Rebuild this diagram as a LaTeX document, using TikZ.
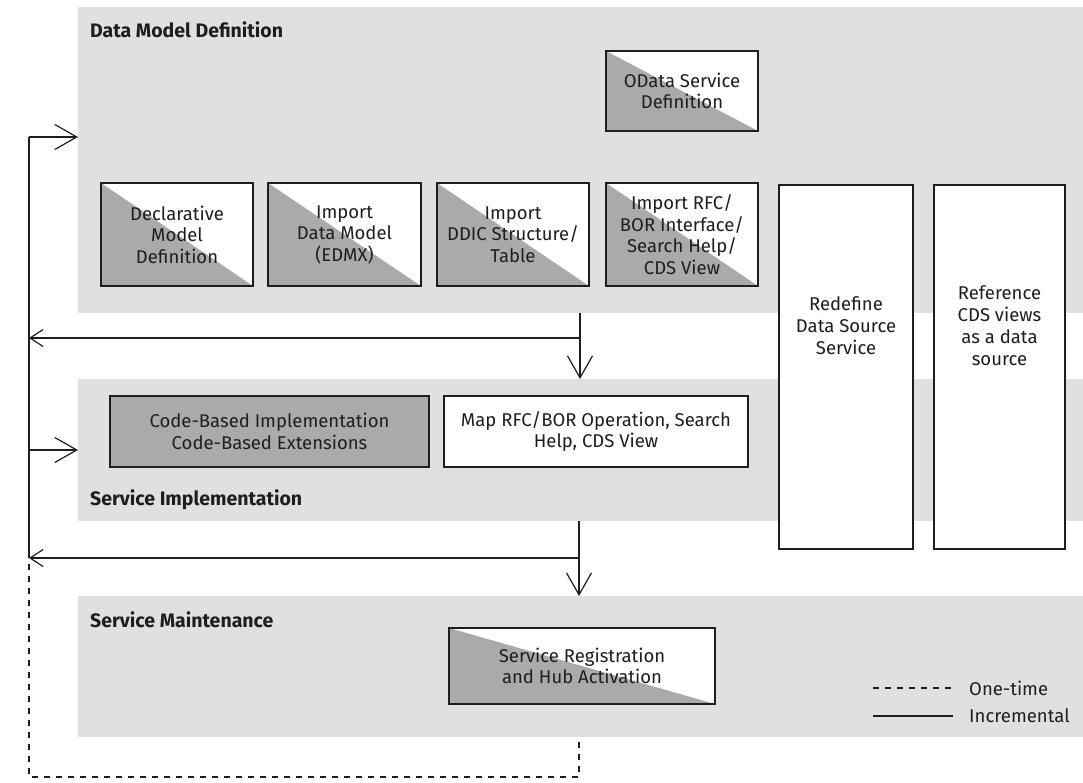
\documentclass[tikz,border=0pt]{standalone}
\usepackage{fontspec}
\setmainfont{Fira Sans}
\usetikzlibrary{arrows.meta}

\definecolor{bandgrey}{HTML}{E0E0E0}
\definecolor{halfgrey}{HTML}{AAAAAA}
\definecolor{ink}{HTML}{1E1E1E}

\tikzset{
  phase/.style={fill=bandgrey, draw=none, inner sep=0pt, outer sep=0pt},
  phasetitle/.style={anchor=base west, inner sep=0pt, text=ink,
    font=\fontsize{19.5}{22}\selectfont\bfseries},
  plainbox/.style={draw=ink, line width=1.3pt, fill=white, inner sep=0pt,
    outer sep=0pt, align=center, text=ink,
    font=\fontsize{18.5}{21.5}\selectfont},
  darkbox/.style={plainbox, fill=halfgrey},
  halfbox/.style={plainbox,
    path picture={\fill[halfgrey] (path picture bounding box.north west)
      -- (path picture bounding box.south west)
      -- (path picture bounding box.south east) -- cycle;}},
  boxtext/.style={inner sep=0pt, align=center, text=ink,
    font=\fontsize{18.5}{22}\selectfont},
  flow/.style={draw=ink, line width=1.2pt},
  onetime/.style={flow, dash pattern=on 6pt off 6pt},
  bigV/.tip={Straight Barb[length=22pt,width=25pt]},
  smallV/.tip={Straight Barb[length=13pt,width=17pt]},
  legendtext/.style={anchor=west, inner sep=0pt, text=ink,
    font=\fontsize{18.5}{21}\selectfont},
}

\begin{document}
\begin{tikzpicture}[x=1pt, y=-1pt]
\useasboundingbox (0,0) rectangle (1083,782);
\fill[white] (0,0) rectangle (1083,782);

% phase bands
\node[phase, minimum width=1005, minimum height=306] (dmd)    at (580.5,160) {};
\node[phase, minimum width=1005, minimum height=142] (simp)   at (580.5,450) {};
\node[phase, minimum width=1005, minimum height=141] (smaint) at (580.5,666.5) {};

\node[phasetitle] (dmdT)    at (90,37)  {Data Model Definition};
\node[phasetitle] (simpT)   at (90,505) {Service Implementation};
\node[phasetitle] (smaintT) at (90,627) {Service Maintenance};

% data model definition
\node[halfbox, minimum width=152, minimum height=80] (odata) at (682,91)
  {OData Service\\Definition};
\node[halfbox, minimum width=152, minimum height=103] (decl) at (177,234.5)
  {Declarative\\Model\\Definition};
\node[halfbox, minimum width=153, minimum height=103] (edmx) at (344.5,234.5)
  {Import\\Data Model\\(EDMX)};
\node[halfbox, minimum width=152, minimum height=103] (ddic) at (513,234.5)
  {Import\\DDIC Structure/\\Table};
\node[halfbox, minimum width=152, minimum height=103] (rfc) at (682,234.5)
  {Import RFC/\\BOR Interface/\\Search Help/\\CDS View};

% tall boxes spanning both upper phases
\node[plainbox, minimum width=134, minimum height=364] (redef) at (846,367) {};
\node[boxtext] (redefT) at (846,326) {Redefine\\Data Source\\Service};
\node[plainbox, minimum width=131, minimum height=364] (cdsref) at (999.5,367) {};
\node[boxtext] (cdsrefT) at (999.5,326) {Reference\\CDS views\\as a data\\source};

% service implementation
\node[darkbox, minimum width=319, minimum height=71] (code) at (269.5,431.5)
  {Code-Based Implementation\\Code-Based Extensions};
\node[plainbox, minimum width=304, minimum height=71] (map) at (596,431.5)
  {Map RFC/BOR Operation, Search\\Help, CDS View};

% service maintenance
\node[halfbox, minimum width=266, minimum height=76] (sreg) at (582,666)
  {Service Registration\\and Hub Activation};

% flow rail
\coordinate (railTop) at (29,137);
\coordinate (fb1)     at (29,338);
\coordinate (in2)     at (29,450);
\coordinate (fb2)     at (29,558);
\coordinate (railBot) at (29,777);
\coordinate (split1)  at (580,338);
\coordinate (split2)  at (579,558);
\coordinate (dashEnd) at (579,777);

\draw[flow] (railTop) -- (fb2);
\draw[flow, -{bigV}] (railTop) -- (railTop -| dmd.west);
\draw[flow, -{bigV}] (in2) -- (in2 -| simp.west);

\draw[flow, -{bigV}] (dmd.south -| split1) -- (simp.north -| split1);
\draw[flow, -{smallV}] (split1) -- (fb1);

\draw[flow, -{bigV}] (simp.south -| split2) -- (smaint.north -| split2);
\draw[flow, -{smallV}] (split2) -- (fb2);

\draw[onetime, dash phase=6pt] (fb2) -- (railBot) -- (dashEnd) -- (smaint.south -| dashEnd);

% legend
\coordinate (lgDashA) at (873,688);
\coordinate (lgDashB) at (953,688);
\coordinate (lgLineA) at (873,716);
\coordinate (lgLineB) at (953,716);
\draw[onetime] (lgDashA) -- (lgDashB);
\draw[flow] (lgLineA) -- (lgLineB);
\node[legendtext] (lgOne) at (969,688) {One-time};
\node[legendtext] (lgInc) at (969,716) {Incremental};
\end{tikzpicture}
\end{document}
